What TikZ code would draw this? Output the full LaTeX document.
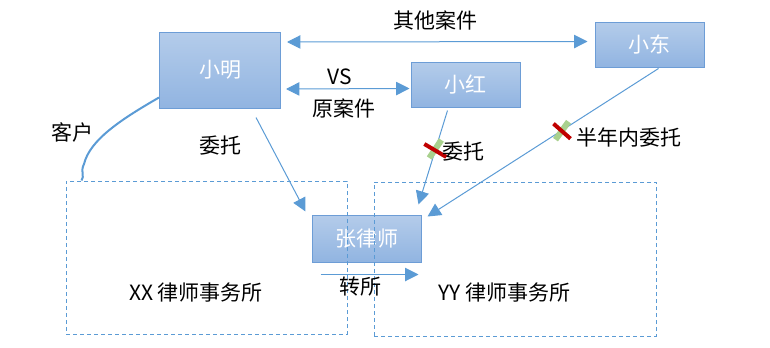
\documentclass[tikz,border=0pt]{standalone}
\usepackage{fontspec}
\setmainfont{Noto Sans CJK SC}
\usepackage{xcolor}
\usetikzlibrary{arrows.meta}
\definecolor{boxline}{RGB}{109,157,214}
\definecolor{boxtop}{RGB}{180,204,234}
\definecolor{boxbottom}{RGB}{145,180,225}
\definecolor{linkblue}{RGB}{91,155,213}
\definecolor{okgreen}{RGB}{169,209,142}
\definecolor{nored}{RGB}{192,0,0}
\tikzset{
  person/.style={draw=boxline,line width=0.75pt,top color=boxtop,bottom color=boxbottom,
    text=white,minimum width=81.75pt,minimum height=33.75pt,inner sep=0pt},
  firm/.style={draw=linkblue,line width=0.75pt,dash pattern=on 3pt off 2.25pt,inner sep=0pt},
  tip/.tip={Triangle[length=10pt,width=10pt]},
  link/.style={linkblue,line width=0.75pt,-tip},
  twoway/.style={linkblue,line width=0.75pt,tip-tip},
  greenbar/.style={okgreen,line width=4.5pt},
  redbar/.style={nored,line width=3pt}
}

\begin{document}
\begin{tikzpicture}[x=0.75pt,y=-0.75pt,font=\fontsize{15.75}{18}\selectfont]
\useasboundingbox (0,0) rectangle (770,347);
% parties and lawyer
\node[person,minimum width=90.75pt,minimum height=57pt] (xm) at (220,70) {小明};
\node[person] (xh) at (465.5,84.5) {小红};
\node[person] (xd) at (649.5,44.5) {小东};
\node[person,minimum height=35.25pt] (zls) at (366.5,238.5) {张律师};
% law firms
\node[firm,minimum width=210.75pt,minimum height=114.75pt] (xxfirm) at (206.5,257.5) {};
\node[firm,minimum width=211.5pt,minimum height=115.5pt] (yyfirm) at (515,259) {};
\node (xxlabel) at (196,293) {XX 律师事务所};
\node (yylabel) at (504,293) {YY 律师事务所};
% cases
\draw[twoway] ([shift={(6,-28)}]xm.east) -- ([shift={(-7,-3)}]xd.west);
\node (othercase) at (435,20) {其他案件};
\draw[twoway] ([shift={(5,19)}]xm.east) -- ([shift={(-1,4)}]xh.west);
\node (vs) at (339.5,77) {VS};
\node (origcase) at (344,108) {原案件};
% entrust
\draw[link] ([shift={(36,9)}]xm.south) -- ([shift={(-61,-3)}]zls.north);
\node (entrust) at (220,146) {委托};
\draw[link] ([shift={(-18,3)}]xh.south) -- coordinate[pos=0.42] (cut1) ([shift={(52,-10)}]zls.north);
\draw[link] ([shift={(9,1)}]xd.south) -- coordinate[pos=0.42] (cut2) ([shift={(6,2)}]zls.north east);
\draw[greenbar] ([shift={(6,-10)}]cut1) -- ([shift={(-6,8)}]cut1);
\draw[redbar] ([shift={(-11,-6)}]cut1) -- ([shift={(11,7)}]cut1);
\draw[greenbar] ([shift={(7,-9)}]cut2) -- ([shift={(-6,9)}]cut2);
\draw[redbar] ([shift={(-8,-7)}]cut2) -- ([shift={(9,8)}]cut2);
\node (noentrust) at (463,152) {委托};
\node (halfyear) at (629,137) {半年内委托};
% transfer
\draw[link] ([shift={(-46,12)}]zls.south) -- ([shift={(52,12)}]zls.south);
\node (transfer) at (360,287) {转所};
% client
\draw[linkblue,line width=1.5pt] ([shift={(0,-11)}]xm.south west)
  .. controls (120,120) and (90,140) .. (84,164)
  .. controls (80,172) and (85,176) .. ([shift={(16,0)}]xxfirm.north west);
\node (client) at (72,132) {客户};
\end{tikzpicture}
\end{document}
